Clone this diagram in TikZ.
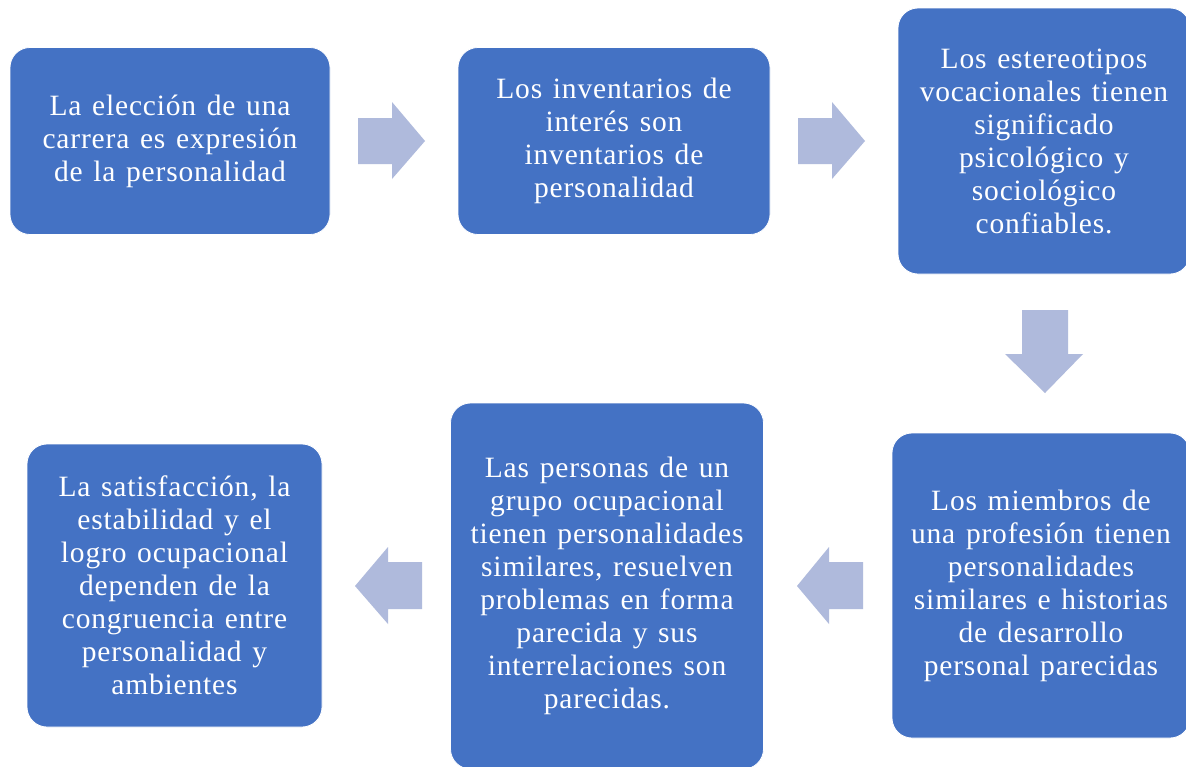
\documentclass[tikz,border=0pt]{standalone}
\usepackage{fontspec}
\setmainfont{Liberation Serif}
\newfontfamily\tnr{Liberation Serif}[LetterSpace=2.8, WordSpace=1.3]
\definecolor{boxblue}{HTML}{4472C4}
\definecolor{arrowblue}{RGB}{175,186,220}
\begin{document}
\begin{tikzpicture}[x=1pt,y=-1pt,
  box/.style={rectangle, rounded corners=20pt, fill=boxblue, draw=white, line width=0.8pt,
    text=white, align=center, inner sep=0pt,
    font=\tnr\fontsize{29.5}{33}\selectfont},
  blockarrow/.style={fill=arrowblue, draw=none}]
\useasboundingbox (0,0) rectangle (1186,766);
\fill[white] (0,0) rectangle (1186,766);

\node[box, minimum width=320pt, minimum height=187pt] (b1) at (170,141)
  {La elección de una\\carrera es expresión\\de la personalidad};
\node[box, minimum width=312pt, minimum height=187pt] (b2) at (614,141)
  {Los inventarios de\\interés son\\inventarios de\\personalidad};
\node[box, minimum width=292pt, minimum height=266pt] (b3) at (1044,141)
  {Los estereotipos\\vocacionales tienen\\significado\\psicológico y\\sociológico\\confiables.};
\node[box, minimum width=298pt, minimum height=305pt] (b4) at (1041,585.5)
  {Los miembros de\\una profesión tienen\\personalidades\\similares e historias\\de desarrollo\\personal parecidas};
\node[box, minimum width=313pt, minimum height=366pt] (b5) at (607,586)
  {Las personas de un\\grupo ocupacional\\tienen personalidades\\similares, resuelven\\problemas en forma\\parecida y sus\\interrelaciones son\\parecidas.};
\node[box, minimum width=295pt, minimum height=283pt] (b6) at (174.5,585.5)
  {La satisfacción, la\\estabilidad y el\\logro ocupacional\\dependen de la\\congruencia entre\\personalidad y\\ambientes};

% block arrows
\fill[blockarrow] (358,118) -- (392,118) -- (392,102) -- (425,141) -- (392,179) -- (392,164) -- (358,164) -- cycle;
\fill[blockarrow] (798,118) -- (832,118) -- (832,102) -- (865,141) -- (832,179) -- (832,164) -- (798,164) -- cycle;
\fill[blockarrow] (1022,310) -- (1068,310) -- (1068,354) -- (1083,354) -- (1045,393) -- (1005,354) -- (1022,354) -- cycle;
\fill[blockarrow] (863,562) -- (829,562) -- (829,547) -- (797,586) -- (829,624) -- (829,609) -- (863,609) -- cycle;
\fill[blockarrow] (422,562) -- (388,562) -- (388,547) -- (355,586) -- (388,624) -- (388,609) -- (422,609) -- cycle;
\end{tikzpicture}
\end{document}
